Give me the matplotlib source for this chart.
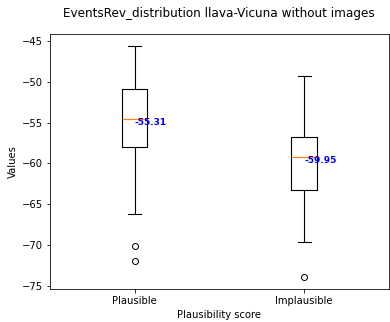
import matplotlib
matplotlib.use("Agg")
import matplotlib.pyplot as plt

categories = ["Plausible", "Implausible"]
whisker_high = [-45.61, -49.32]
q3 = [-50.85, -56.76]
medians = [-54.51, -59.20]
q1 = [-58.01, -63.26]
whisker_low = [-66.18, -69.63]
outliers = [[-70.09, -71.92], [-73.95]]
means = [-55.31, -59.95]

stats = []
for i, name in enumerate(categories):
    stats.append({
        "label": name,
        "whishi": whisker_high[i],
        "q3": q3[i],
        "med": medians[i],
        "q1": q1[i],
        "whislo": whisker_low[i],
        "fliers": outliers[i],
        "mean": means[i],
    })

fig, ax = plt.subplots(figsize=(390 / 72, 322 / 72), dpi=72)
fig.subplots_adjust(left=0.1274, right=0.9974, bottom=0.1025, top=0.8935)

ax.bxp(stats, positions=[1, 2], showmeans=False,
       medianprops=dict(color="#ff7f0e", linewidth=1.2),
       boxprops=dict(linewidth=1.1),
       whiskerprops=dict(linewidth=1.1),
       capprops=dict(linewidth=1.1))

for pos, m in zip([1, 2], means):
    ax.text(pos, m, f"{m:.2f}", ha="left", color="blue",
            fontweight="bold", fontsize=9)

ax.set_title("EventsRev_distribution llava-Vicuna without images", pad=17)
ax.set_xlabel("Plausibility score")
ax.set_ylabel("Values")

fig.savefig("out.png", dpi=72)
